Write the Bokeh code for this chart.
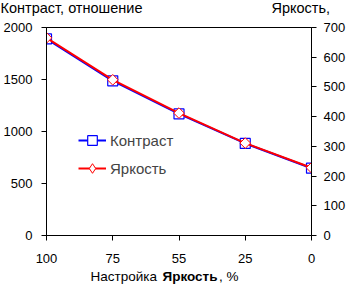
import math
from bokeh.plotting import figure
from bokeh.layouts import column
from bokeh.models import Range1d, LinearAxis, FixedTicker, Label, Legend, LegendItem
from bokeh.embed import file_html
from bokeh.resources import INLINE

categories = ["100", "75", "55", "25", "0"]
contrast = [1890, 1487, 1169, 885, 647]
brightness = [665, 524, 412, 311, 228]
left_ticks = [0, 500, 1000, 1500, 2000]
right_ticks = [0, 100, 200, 300, 400, 500, 600, 700]

x = list(range(len(categories)))
FONT = "Liberation Sans"
W = 348
SHIFT = 5  # measured vertical offset of labels inside thin strips


def no_align(f):
    try:
        f.frame_align = False
    except AttributeError:
        pass


def text_strip(height):
    f = figure(width=W, height=height, output_backend="svg", toolbar_location=None,
               x_range=Range1d(0, 1), y_range=Range1d(0, 1),
               x_axis_location=None, y_axis_location=None, min_border=0,
               min_border_left=0, min_border_right=0, min_border_top=0, min_border_bottom=0)
    f.grid.visible = False
    f.outline_line_color = None
    f.background_fill_color = "white"
    f.border_fill_color = "white"
    no_align(f)
    return f


def lab(f, fh, text, cx, cy, bold=False, size="14px"):
    f.add_layout(Label(x=cx, y=fh - cy + SHIFT, x_units="screen", y_units="screen",
                       text=text, text_font=FONT, text_font_size=size,
                       text_font_style="bold" if bold else "normal",
                       text_baseline="alphabetic", text_align="left",
                       text_color="black"))


# top strip: axis titles
TOP_H = 20
top = text_strip(TOP_H)
lab(top, TOP_H, "Контраст, отношение", 0, 12.5, size="14.5px")
lab(top, TOP_H, "Яркость,", 271, 12.5, size="14.5px")

# main chart
MAIN_H = 249
p = figure(width=W, height=MAIN_H, output_backend="svg", toolbar_location=None,
           x_range=Range1d(0, len(categories) - 1), y_range=Range1d(0, 2000),
           min_border_left=43, min_border_right=35, min_border_top=7, min_border_bottom=34)
no_align(p)
p.extra_y_ranges = {"right": Range1d(0, 700)}
p.add_layout(LinearAxis(y_range_name="right"), "right")

p.xgrid.visible = False
p.ygrid.visible = False
p.outline_line_color = "black"
p.outline_line_width = 1
p.background_fill_color = "white"
p.border_fill_color = "white"

for ax in p.axis:
    ax.axis_line_color = "black"
    ax.axis_line_width = 1
    ax.major_tick_line_color = "black"
    ax.major_tick_in = 0
    ax.major_tick_out = 5
    ax.minor_tick_line_color = None
    ax.major_label_text_font = FONT
    ax.major_label_text_font_size = "13px"
    ax.major_label_text_color = "black"

p.xaxis.ticker = FixedTicker(ticks=x)
p.xaxis.major_label_overrides = {i: c for i, c in enumerate(categories)}
p.xaxis.major_label_standoff = 13
p.yaxis[0].ticker = FixedTicker(ticks=left_ticks)
p.yaxis[0].major_label_standoff = 9
p.yaxis[1].ticker = FixedTicker(ticks=right_ticks)
p.yaxis[1].major_label_standoff = 7

r1 = p.line(x, contrast, line_color="#0000ff", line_width=2)
s1 = p.scatter(x, contrast, marker="square", size=10, line_color="#0000ff",
               fill_color="white", line_width=1.2)
r2 = p.line(x, brightness, line_color="#ff0000", line_width=2, y_range_name="right")
s2 = p.scatter(x, brightness, marker="square", angle=math.pi / 4, size=7.5,
               line_color="#ff0000", fill_color="white", line_width=1,
               y_range_name="right")
# legend swatch for the diamond marker (no visible point in the plot)
s2_key = p.scatter([math.nan], [math.nan], marker="diamond", size=12,
                   line_color="#ff0000", fill_color="white", line_width=1,
                   y_range_name="right")

legend = Legend(items=[LegendItem(label="Контраст", renderers=[r1, s1]),
                       LegendItem(label="Яркость", renderers=[r2, s2_key])],
                location=(32, 55), border_line_color=None, background_fill_alpha=0,
                padding=0, margin=0, spacing=4, glyph_width=28, glyph_height=24,
                label_height=24, label_standoff=4, label_text_font=FONT,
                label_text_font_size="15px")
p.add_layout(legend)

# bottom strip: x-axis title with bold word
BOT_H = 16
bot = text_strip(BOT_H)
lab(bot, BOT_H, "Настройка", 90, 12, size="13.5px")
lab(bot, BOT_H, "Яркость", 162, 12, bold=True, size="13.5px")
lab(bot, BOT_H, ", %", 218.5, 12, size="13.5px")

layout = column(top, p, bot, spacing=0)
open("out.html", "w").write(file_html(layout, INLINE))
